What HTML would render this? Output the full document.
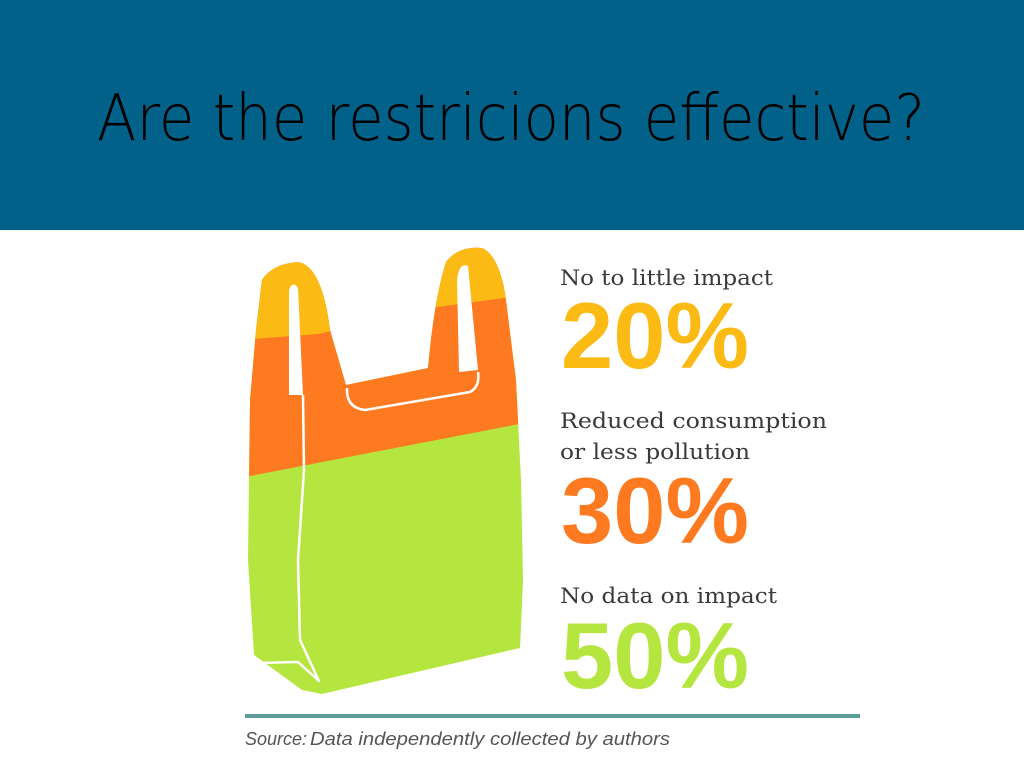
<!DOCTYPE html>
<html><head><meta charset="utf-8"><style>
html,body{margin:0;padding:0;background:#fff}
svg{display:block}
</style></head><body>
<svg width="1024" height="768" viewBox="0 0 1024 768" xmlns="http://www.w3.org/2000/svg">
<rect x="0" y="0" width="1024" height="230" fill="#026189"/>
<text x="97" y="140" font-family="DejaVu Sans, Liberation Sans, sans-serif" font-weight="200" font-size="64" fill="#000" textLength="828" lengthAdjust="spacingAndGlyphs">Are the restricions effective?</text>
<defs>
<clipPath id="bag">
<path d="M262,280 Q272,264 298,262 Q322,266 330,330 L346,385 L428,368 Q434,300 446,262 Q458,246 482,248 Q500,256 506,300 L516,380 L521,480 L523,580 L520,648 L322,694 L302,690 L254,655 L248,560 L250,400 L256,330 Z"/>
</clipPath>
</defs>
<g clip-path="url(#bag)">
<rect x="240" y="240" width="300" height="470" fill="#b5e640"/>
<polygon points="240,240 540,240 540,420 240,478" fill="#fe7a20"/>
<polygon points="240,240 540,240 540,293 430,308 318,334 240,340" fill="#fcba15"/>
</g>
<path d="M289,290 Q293,280 298,288 L303,395 L289,395 Z" fill="#fff"/>
<path d="M457,280 Q459,262 468,266 L478,370 L459,372 Z" fill="#fff"/>
<g fill="none" stroke="#fff" stroke-width="2.5" stroke-linejoin="round">
<path d="M303,395 L304,470 L298,560 L300,640 L319,681 L298,662 L257,663"/>
<path d="M347,388 Q346,408 365,410 L470,392 Q480,387 478,372"/>
</g>
<g font-family="DejaVu Serif, serif" fill="#3a3a3a" font-size="21">
<text x="560" y="285" textLength="213" lengthAdjust="spacingAndGlyphs">No to little impact</text>
<text x="560" y="428" textLength="267" lengthAdjust="spacingAndGlyphs">Reduced consumption</text>
<text x="560" y="459" textLength="190" lengthAdjust="spacingAndGlyphs">or less pollution</text>
<text x="560" y="603" textLength="217" lengthAdjust="spacingAndGlyphs">No data on impact</text>
</g>
<g font-family="Liberation Sans, sans-serif" font-weight="bold" font-size="94">
<text x="561" y="368" fill="#fcba15" textLength="188" lengthAdjust="spacingAndGlyphs">20%</text>
<text x="561" y="543" fill="#fe7a20" textLength="188" lengthAdjust="spacingAndGlyphs">30%</text>
<text x="561" y="688" fill="#b5e640" textLength="188" lengthAdjust="spacingAndGlyphs">50%</text>
</g>
<rect x="245" y="714" width="615" height="4" fill="#5e9c98"/>
<g font-family="Liberation Sans, sans-serif" font-style="italic" font-size="18" fill="#555">
<text x="245" y="745" textLength="62" lengthAdjust="spacingAndGlyphs">Source:</text>
<text x="310" y="745" textLength="360" lengthAdjust="spacingAndGlyphs">Data independently collected by authors</text>
</g>
</svg>
</body></html>
